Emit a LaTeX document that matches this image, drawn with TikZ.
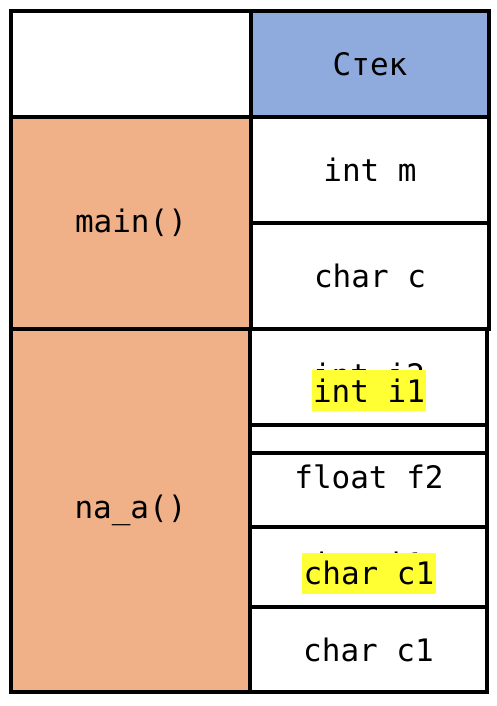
\documentclass[tikz,border=0pt]{standalone}
\usepackage{fontspec}
\setmonofont{DejaVu Sans Mono}
\definecolor{fnorange}{RGB}{240,176,136}
\definecolor{stackblue}{RGB}{143,170,220}
\definecolor{hlyellow}{RGB}{255,255,51}
\tikzset{
  cell/.style={draw=black, line width=3.2pt, inner sep=0pt, rectangle,
    font=\fontsize{31}{31}\selectfont\ttfamily},
  txt/.style={inner sep=0pt, font=\fontsize{31}{31}\selectfont\ttfamily},
  hl/.style={txt, fill=hlyellow, minimum height=41pt, minimum width=114pt},
}
\begin{document}
\begin{tikzpicture}[x=1pt,y=-1pt]
\useasboundingbox (0,0) rectangle (496,706);
% header row
\node[cell, minimum width=240pt, minimum height=106pt] (corner) at (131,64) {};
\node[cell, fill=stackblue, minimum width=238pt, minimum height=106pt] (stack) at (370,64) {Стек};
% main()
\node[cell, fill=fnorange, minimum width=240pt, minimum height=212pt] (main) at (131,223) {main()};
\node[cell, minimum width=238pt, minimum height=106pt] (intm) at (370,170) {int m};
\node[cell, minimum width=238pt, minimum height=106pt] (charc) at (370,276) {char c};
% na_a()
\node[cell, fill=fnorange, minimum width=239pt, minimum height=363pt] (naa) at (130.5,510.5) {na\_a()};
\node[cell, minimum width=237pt, minimum height=96pt] (cellA) at (368.5,377) {};
\node[cell, minimum width=237pt, minimum height=28pt] (cellB) at (368.5,439) {};
\node[cell, minimum width=237pt, minimum height=74pt] (cellC) at (368.5,490) {};
\node[cell, minimum width=237pt, minimum height=80pt] (cellD) at (368.5,567) {};
\node[cell, minimum width=237pt, minimum height=85pt] (cellE) at (368.5,649.5) {char c1};
% texts
\node[txt, anchor=base] (f2) at (369,488) {float f2};
\node[txt, anchor=base] (i2) at (369,386) {int i2};
\node[hl] (i1) at (369,390.5) {int i1};
\node[txt, anchor=base] (hid) at (368,575.5) {int i1};
\node[hl, minimum width=134pt] (c1) at (369,573) {char c1};
\end{tikzpicture}
\end{document}
